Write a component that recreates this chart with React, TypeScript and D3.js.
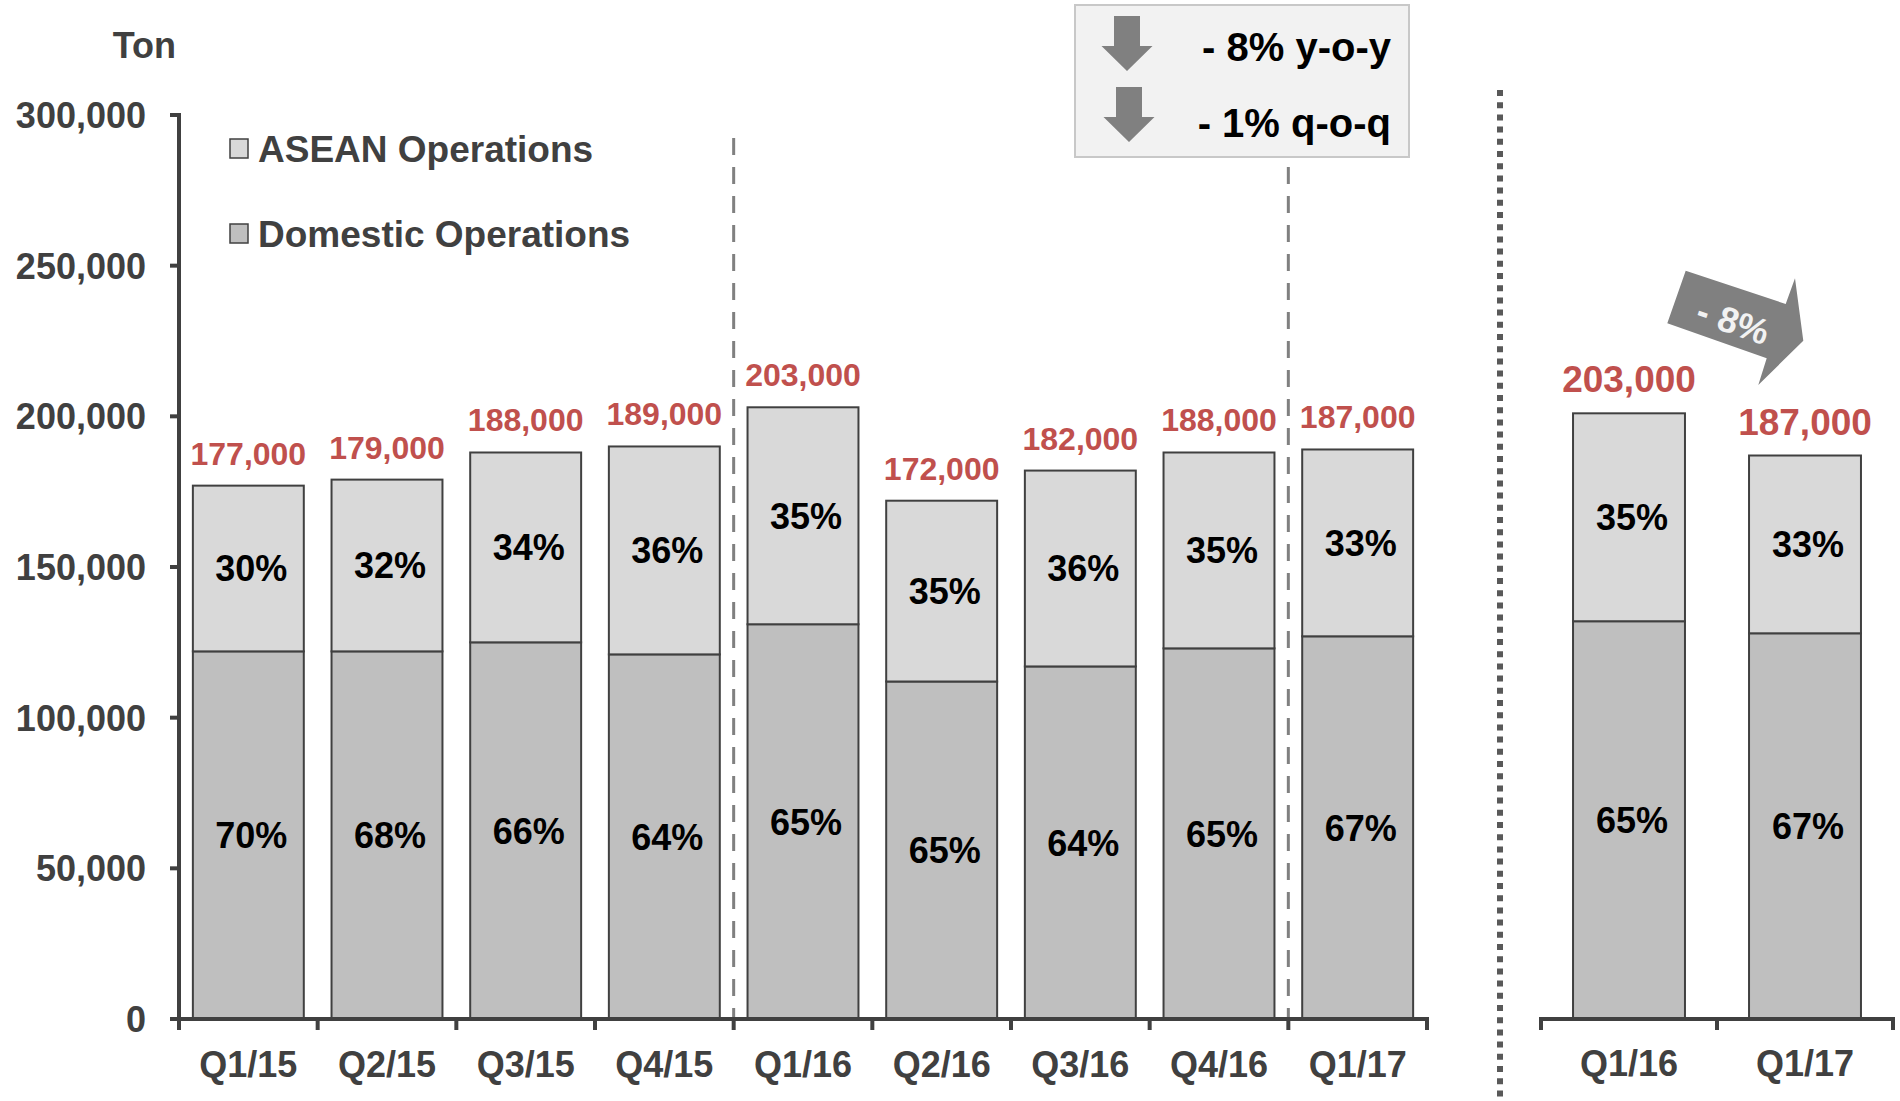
import React from 'react';
import * as d3 from 'd3';

const categories = ['Q1/15', 'Q2/15', 'Q3/15', 'Q4/15', 'Q1/16', 'Q2/16', 'Q3/16', 'Q4/16', 'Q1/17'];
const domestic = [122000, 122000, 125000, 121000, 131000, 112000, 117000, 123000, 127000];
const asean = [55000, 57000, 63000, 69000, 72000, 60000, 65000, 65000, 62000];
const totalLabels = ['177,000', '179,000', '188,000', '189,000', '203,000', '172,000', '182,000', '188,000', '187,000'];
const domesticPct = ['70%', '68%', '66%', '64%', '65%', '65%', '64%', '65%', '67%'];
const aseanPct = ['30%', '32%', '34%', '36%', '35%', '35%', '36%', '35%', '33%'];

const cmpCategories = ['Q1/16', 'Q1/17'];
const cmpDomestic = [132000, 128000];
const cmpAsean = [69000, 59000];
const cmpTotalLabels = ['203,000', '187,000'];
const cmpDomesticPct = ['65%', '67%'];
const cmpAseanPct = ['35%', '33%'];

const yTicks = [0, 50000, 100000, 150000, 200000, 250000, 300000];
const legendItems = ['ASEAN Operations', 'Domestic Operations'];
const changeNotes = ['- 8% y-o-y', '- 1% q-o-q'];
const cmpChange = '- 8%';

const FONT = '"Liberation Sans", Arial, sans-serif';
const AXIS = '#404040';
const RED = '#c0504d';
const C_DOM = '#bfbfbf';
const C_ASEAN = '#d9d9d9';

const y = d3.scaleLinear().domain([0, 300000]).range([1019, 115]);
const x = d3.scaleBand<string>().domain(categories).range([179, 1427]).paddingInner(0.2).paddingOuter(0.1);
const x2 = d3.scaleBand<string>().domain(cmpCategories).range([1541, 1893]).paddingInner(0.364).paddingOuter(0.182);
const fmt = d3.format(',');

function stackRows(cats: string[], dom: number[], as: number[]) {
  const rows = cats.map((c, i) => ({ cat: c, domestic: dom[i], asean: as[i] }));
  return d3.stack<any>().keys(['domestic', 'asean'])(rows);
}

function Bars({ cats, dom, as, scale, totals, dPct, aPct, totalFs }: any) {
  const series = stackRows(cats, dom, as);
  const [sDom, sAs] = series;
  const bw = scale.bandwidth();
  return (
    <g>
      {cats.map((c: string, i: number) => {
        const x0 = scale(c);
        const d = sDom[i];
        const a = sAs[i];
        const cx = x0 + bw / 2;
        return (
          <g key={c}>
            <rect x={x0} y={y(d[1])} width={bw} height={y(d[0]) - y(d[1])} fill={C_DOM} stroke={AXIS} strokeWidth={2} />
            <rect x={x0} y={y(a[1])} width={bw} height={y(a[0]) - y(a[1])} fill={C_ASEAN} stroke={AXIS} strokeWidth={2} />
            <text x={cx + 3} y={(y(d[0]) + y(d[1])) / 2 + 0.36 * 36} textAnchor="middle" fontSize={36} fontWeight="bold" fill="#000">{dPct[i]}</text>
            <text x={cx + 3} y={(y(a[0]) + y(a[1])) / 2 + 0.36 * 36} textAnchor="middle" fontSize={36} fontWeight="bold" fill="#000">{aPct[i]}</text>
            <text x={cx} y={y(a[1]) - 21} textAnchor="middle" fontSize={totalFs} fontWeight="bold" fill={RED}>{totals[i]}</text>
          </g>
        );
      })}
    </g>
  );
}

function DownArrow({ cx, top }: { cx: number; top: number }) {
  const p = d3.path();
  p.moveTo(cx - 13, top);
  p.lineTo(cx + 13, top);
  p.lineTo(cx + 13, top + 30);
  p.lineTo(cx + 25.5, top + 30);
  p.lineTo(cx, top + 55);
  p.lineTo(cx - 25.5, top + 30);
  p.lineTo(cx - 13, top + 30);
  p.closePath();
  return <path d={p.toString()} fill="#808080" />;
}

export default function App() {
  const leftBoundaries = d3.range(categories.length + 1).map((i) => 179 + i * x.step());
  const rightBoundaries = d3.range(cmpCategories.length + 1).map((i) => 1541 + i * x2.step());
  const y0 = y(0);
  return (
    <svg width={1900} height={1101} style={{ position: 'absolute', left: 0, top: 0, background: '#fff' }} fontFamily={FONT}>
      <rect x={0} y={0} width={1900} height={1101} fill="#fff" />
      {/* unit */}
      <text x={176} y={45 + 13} textAnchor="end" fontSize={36} fontWeight="bold" fill={AXIS}>Ton</text>

      {/* y axis */}
      <line x1={179} x2={179} y1={y(300000) - 2} y2={y0 + 2} stroke={AXIS} strokeWidth={4} />
      {yTicks.map((t) => (
        <g key={t}>
          <line x1={170} x2={179} y1={y(t)} y2={y(t)} stroke={AXIS} strokeWidth={4} />
          <text x={146} y={y(t) + 13} textAnchor="end" fontSize={36} fontWeight="bold" fill={AXIS}>{fmt(t)}</text>
        </g>
      ))}

      {/* legend */}
      {legendItems.map((l, i) => (
        <g key={l}>
          <rect x={230} y={139 + i * 85} width={18} height={19} fill={i === 0 ? C_ASEAN : C_DOM} stroke={AXIS} strokeWidth={1.5} />
          <text x={258} y={149 + i * 85 + 13} fontSize={37} fontWeight="bold" fill={AXIS}>{l}</text>
        </g>
      ))}

      {/* dashed separators */}
      <line x1={leftBoundaries[4]} x2={leftBoundaries[4]} y1={138} y2={y0} stroke="#808080" strokeWidth={3} strokeDasharray="17 12" />
      <line x1={leftBoundaries[8]} x2={leftBoundaries[8]} y1={167} y2={y0} stroke="#808080" strokeWidth={3} strokeDasharray="17 12" />

      <Bars cats={categories} dom={domestic} as={asean} scale={x} totals={totalLabels} dPct={domesticPct} aPct={aseanPct} totalFs={32} />

      {/* x axis */}
      <line x1={177} x2={1429} y1={y0} y2={y0} stroke={AXIS} strokeWidth={4} />
      {leftBoundaries.map((b, i) => (
        <line key={i} x1={b} x2={b} y1={y0} y2={y0 + 11} stroke={AXIS} strokeWidth={4} />
      ))}
      {categories.map((c) => (
        <text key={c} x={(x(c) as number) + x.bandwidth() / 2} y={1064 + 13} textAnchor="middle" fontSize={36} fontWeight="bold" fill={AXIS}>{c}</text>
      ))}

      {/* change box */}
      <rect x={1075} y={5} width={334} height={152} fill="#f2f2f2" stroke="#c8c8c8" strokeWidth={2} />
      <DownArrow cx={1127} top={16} />
      <DownArrow cx={1129} top={87} />
      <text x={1391} y={61} textAnchor="end" fontSize={40} fontWeight="bold" fill="#000">{changeNotes[0]}</text>
      <text x={1391} y={137} textAnchor="end" fontSize={40} fontWeight="bold" fill="#000">{changeNotes[1]}</text>

      {/* dotted separator */}
      <line x1={1500} x2={1500} y1={90} y2={1101} stroke="#595959" strokeWidth={6} strokeDasharray="6 6.2" />

      {/* comparison panel */}
      <Bars cats={cmpCategories} dom={cmpDomestic} as={cmpAsean} scale={x2} totals={cmpTotalLabels} dPct={cmpDomesticPct} aPct={cmpAseanPct} totalFs={37} />
      <line x1={1539} x2={1895} y1={y0} y2={y0} stroke={AXIS} strokeWidth={4} />
      {rightBoundaries.map((b, i) => (
        <line key={i} x1={b} x2={b} y1={y0} y2={y0 + 11} stroke={AXIS} strokeWidth={4} />
      ))}
      {cmpCategories.map((c) => (
        <text key={c} x={(x2(c) as number) + x2.bandwidth() / 2} y={1063 + 13} textAnchor="middle" fontSize={36} fontWeight="bold" fill={AXIS}>{c}</text>
      ))}

      {/* -8% block arrow */}
      <path d="M1685.7,270.7 L1785.7,304 L1795,278.3 L1803.3,340.7 L1758.3,385 L1766.7,358.3 L1667.3,323.3 Z" fill="#808080" />
      <text x={1733} y={322} textAnchor="middle" fontSize={36} fontWeight="bold" fill="#f2f2f2" transform="rotate(19 1733 322)" dy={12}>{cmpChange}</text>
    </svg>
  );
}
